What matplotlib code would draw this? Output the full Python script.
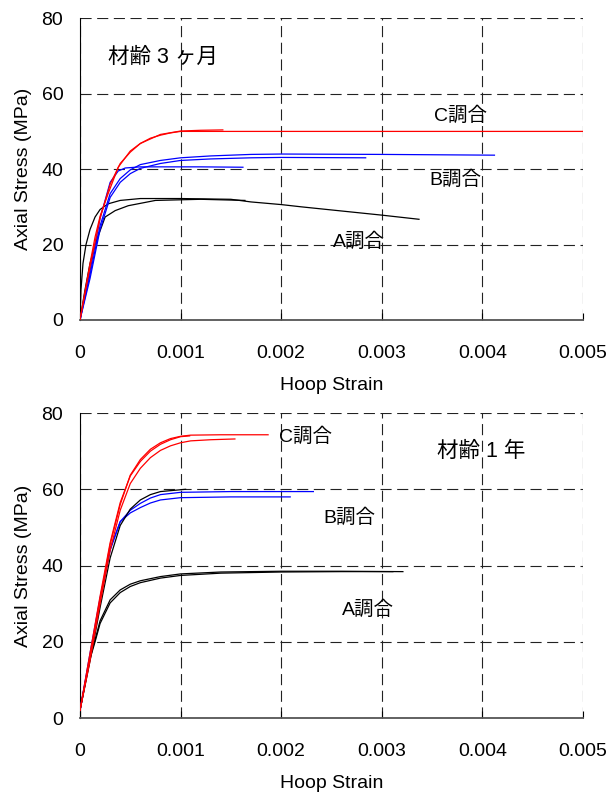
import matplotlib
matplotlib.use('Agg')
import matplotlib.pyplot as plt

plt.rcParams['font.family'] = ['Liberation Sans', 'Noto Sans CJK JP', 'DejaVu Sans']

# ---- 材齢 3 ヶ月 ----
m3_c1_x = [0, 0.00005, 0.0001, 0.00015, 0.0002, 0.00028, 0.00038, 0.0005, 0.0006, 0.0007, 0.0008, 0.0009, 0.001, 0.005]
m3_c1_y = [0, 7.5, 15, 22, 27.5, 33.5, 40.5, 44.8, 46.8, 48.2, 49.0, 49.6, 50.0, 50.0]
m3_c2_x = [0, 0.0001, 0.0002, 0.0003, 0.0004, 0.0005, 0.0006, 0.0008, 0.001, 0.0012, 0.00142]
m3_c2_y = [0, 14, 27, 36, 41.5, 44.5, 46.8, 49.2, 50.1, 50.3, 50.4]

m3_b1_x = [0, 0.0001, 0.0002, 0.0003, 0.0004, 0.0005, 0.0006, 0.0008, 0.001, 0.0013, 0.0017, 0.002, 0.003, 0.00412]
m3_b1_y = [0, 12, 25, 33.5, 37.5, 39.8, 41.2, 42.3, 43.0, 43.5, 43.9, 44.0, 43.9, 43.7]
m3_b2_x = [0, 0.0001, 0.0002, 0.0003, 0.0004, 0.0005, 0.0006, 0.0008, 0.001, 0.0013, 0.0017, 0.002, 0.00284]
m3_b2_y = [0, 11, 24, 32.5, 36.5, 38.8, 40.2, 41.5, 42.3, 42.7, 43.0, 43.1, 43.0]
m3_b3_x = [0, 0.0001, 0.0002, 0.0003, 0.00038, 0.00045, 0.0006, 0.0008, 0.0012, 0.00162]
m3_b3_y = [0, 13, 27, 36.5, 39.5, 40.3, 40.6, 40.6, 40.6, 40.5]

m3_a1_x = [0, 0.00001, 0.00003, 0.00006, 0.0001, 0.00015, 0.0002, 0.00028, 0.0004, 0.0006, 0.001, 0.0015,
           0.0017, 0.002, 0.0022, 0.0026, 0.003, 0.00337]
m3_a1_y = [0, 8, 15, 20, 24, 27.3, 29.3, 30.8, 31.7, 32.2, 32.2, 32.0, 31.3, 30.6, 30.0, 28.9, 27.8, 26.7]
m3_a2_x = [0, 0.00005, 0.0001, 0.00015, 0.00025, 0.00035, 0.00048, 0.00075, 0.0012, 0.00164]
m3_a2_y = [0, 8, 15, 20, 27.3, 29.0, 30.3, 31.7, 32.0, 31.7]

# ---- 材齢 1 年 ----
y1_c1_x = [0, 0.0001, 0.0002, 0.0003, 0.0004, 0.0005, 0.0006, 0.0007, 0.0008, 0.0009, 0.001, 0.0011, 0.0014, 0.00187]
y1_c1_y = [2, 16, 31, 45.5, 56, 63.7, 67.8, 70.5, 72.2, 73.3, 73.9, 74.2, 74.3, 74.3]
y1_c2_x = [0, 0.0001, 0.0002, 0.0003, 0.0004, 0.0005, 0.0006, 0.0007, 0.0008, 0.0009, 0.001, 0.00109]
y1_c2_y = [2, 17, 32, 46, 56.5, 63.5, 67.3, 70, 71.8, 73, 73.8, 74.0]
y1_c3_x = [0, 0.0001, 0.0002, 0.0003, 0.0004, 0.0005, 0.0006, 0.0007, 0.0008, 0.0009, 0.001, 0.0011, 0.0013, 0.00154]
y1_c3_y = [2, 15, 30, 44, 54.5, 61.5, 65.5, 68.3, 70.2, 71.4, 72.2, 72.7, 73.0, 73.2]

y1_b1_x = [0, 0.0001, 0.0002, 0.0003, 0.0004, 0.0005, 0.0006, 0.0007, 0.0008, 0.001, 0.0015, 0.00232]
y1_b1_y = [2, 16, 31, 44, 51.5, 54.5, 56.3, 57.7, 58.6, 59.2, 59.4, 59.4]
y1_b2_x = [0, 0.0001, 0.0002, 0.0003, 0.0004, 0.0005, 0.0006, 0.0007, 0.0008, 0.001, 0.0015, 0.00209]
y1_b2_y = [2, 17, 31.5, 44.5, 51.5, 53.8, 55.2, 56.4, 57.2, 57.8, 58.0, 58.0]
y1_b3_x = [0, 0.0001, 0.0002, 0.0003, 0.0004, 0.0005, 0.0006, 0.0007, 0.0008, 0.00105]
y1_b3_y = [2, 15, 29, 42, 50.5, 54.8, 57.2, 58.6, 59.4, 60.0]

y1_a1_x = [0, 0.0001, 0.00015, 0.0002, 0.0003, 0.0004, 0.0005, 0.0006, 0.0008, 0.001, 0.0014, 0.002, 0.0026, 0.00321]
y1_a1_y = [2, 16, 20.5, 25.5, 31, 33.6, 35.1, 36.0, 37.1, 37.8, 38.3, 38.5, 38.5, 38.4]
y1_a2_x = [0, 0.0001, 0.00015, 0.0002, 0.0003, 0.0004, 0.0005, 0.0006, 0.0008, 0.001, 0.0014, 0.002, 0.0026, 0.00311]
y1_a2_y = [2, 15.5, 20, 24.8, 30.2, 32.9, 34.5, 35.5, 36.7, 37.4, 38.0, 38.3, 38.4, 38.4]

x_ticks = [0, 0.001, 0.002, 0.003, 0.004, 0.005]
x_ticklabels = ['0', '0.001', '0.002', '0.003', '0.004', '0.005']
y_ticks = [0, 20, 40, 60, 80]

top_curves = [(m3_a1_x, m3_a1_y, 'black'), (m3_a2_x, m3_a2_y, 'black'),
              (m3_b1_x, m3_b1_y, 'blue'), (m3_b2_x, m3_b2_y, 'blue'), (m3_b3_x, m3_b3_y, 'blue'),
              (m3_c1_x, m3_c1_y, 'red'), (m3_c2_x, m3_c2_y, 'red')]
bot_curves = [(y1_a1_x, y1_a1_y, 'black'), (y1_a2_x, y1_a2_y, 'black'),
              (y1_b1_x, y1_b1_y, 'blue'), (y1_b2_x, y1_b2_y, 'blue'), (y1_b3_x, y1_b3_y, 'black'),
              (y1_c1_x, y1_c1_y, 'red'), (y1_c2_x, y1_c2_y, 'red'), (y1_c3_x, y1_c3_y, 'red')]


def style_axis(ax):
    ax.set_xlim(0, 0.005)
    ax.set_ylim(0, 80)
    ax.set_xticks(x_ticks)
    ax.set_xticklabels(x_ticklabels)
    ax.set_yticks(y_ticks)
    ax.grid(True, color='#222222', linestyle=(0, (10, 5)), linewidth=0.8)
    ax.spines['top'].set_visible(False)
    ax.spines['right'].set_visible(False)
    ax.spines['left'].set_color('black')
    ax.spines['bottom'].set_color('#555555')
    ax.spines['bottom'].set_linewidth(1.3)
    ax.tick_params(axis='x', direction='in', length=5, pad=18, labelsize=14)
    ax.tick_params(axis='y', direction='in', length=0, pad=12, labelsize=14)
    ax.set_xlabel('Hoop Strain', fontsize=14, labelpad=11)
    ax.set_ylabel('Axial Stress (MPa)', fontsize=14, labelpad=7)


fig = plt.figure(figsize=(6.1, 7.94), dpi=100)
ax1 = fig.add_axes([0.1311, 0.597, 0.8246, 0.380])
ax2 = fig.add_axes([0.1311, 0.0957, 0.8246, 0.3841])

for ax, curves in [(ax1, top_curves), (ax2, bot_curves)]:
    style_axis(ax)
    for cx, cy, col in curves:
        ax.plot(cx, cy, color=col, linewidth=0.9, zorder=3)

ax1.text(0.00028, 69.5, '材齢 3 ヶ月', fontsize=15.5, va='center', ha='left')
ax1.text(0.00378, 54.3, 'C調合', fontsize=14, va='center', ha='center')
ax1.text(0.00373, 37.3, 'B調合', fontsize=14, va='center', ha='center')
ax1.text(0.00277, 20.7, 'A調合', fontsize=14, va='center', ha='center')

ax2.text(0.00355, 69.8, '材齢 1 年', fontsize=15.5, va='center', ha='left')
ax2.text(0.00224, 73.7, 'C調合', fontsize=14, va='center', ha='center')
ax2.text(0.00268, 52.5, 'B調合', fontsize=14, va='center', ha='center')
ax2.text(0.00286, 28.3, 'A調合', fontsize=14, va='center', ha='center')

plt.savefig('out.png', dpi=100)
